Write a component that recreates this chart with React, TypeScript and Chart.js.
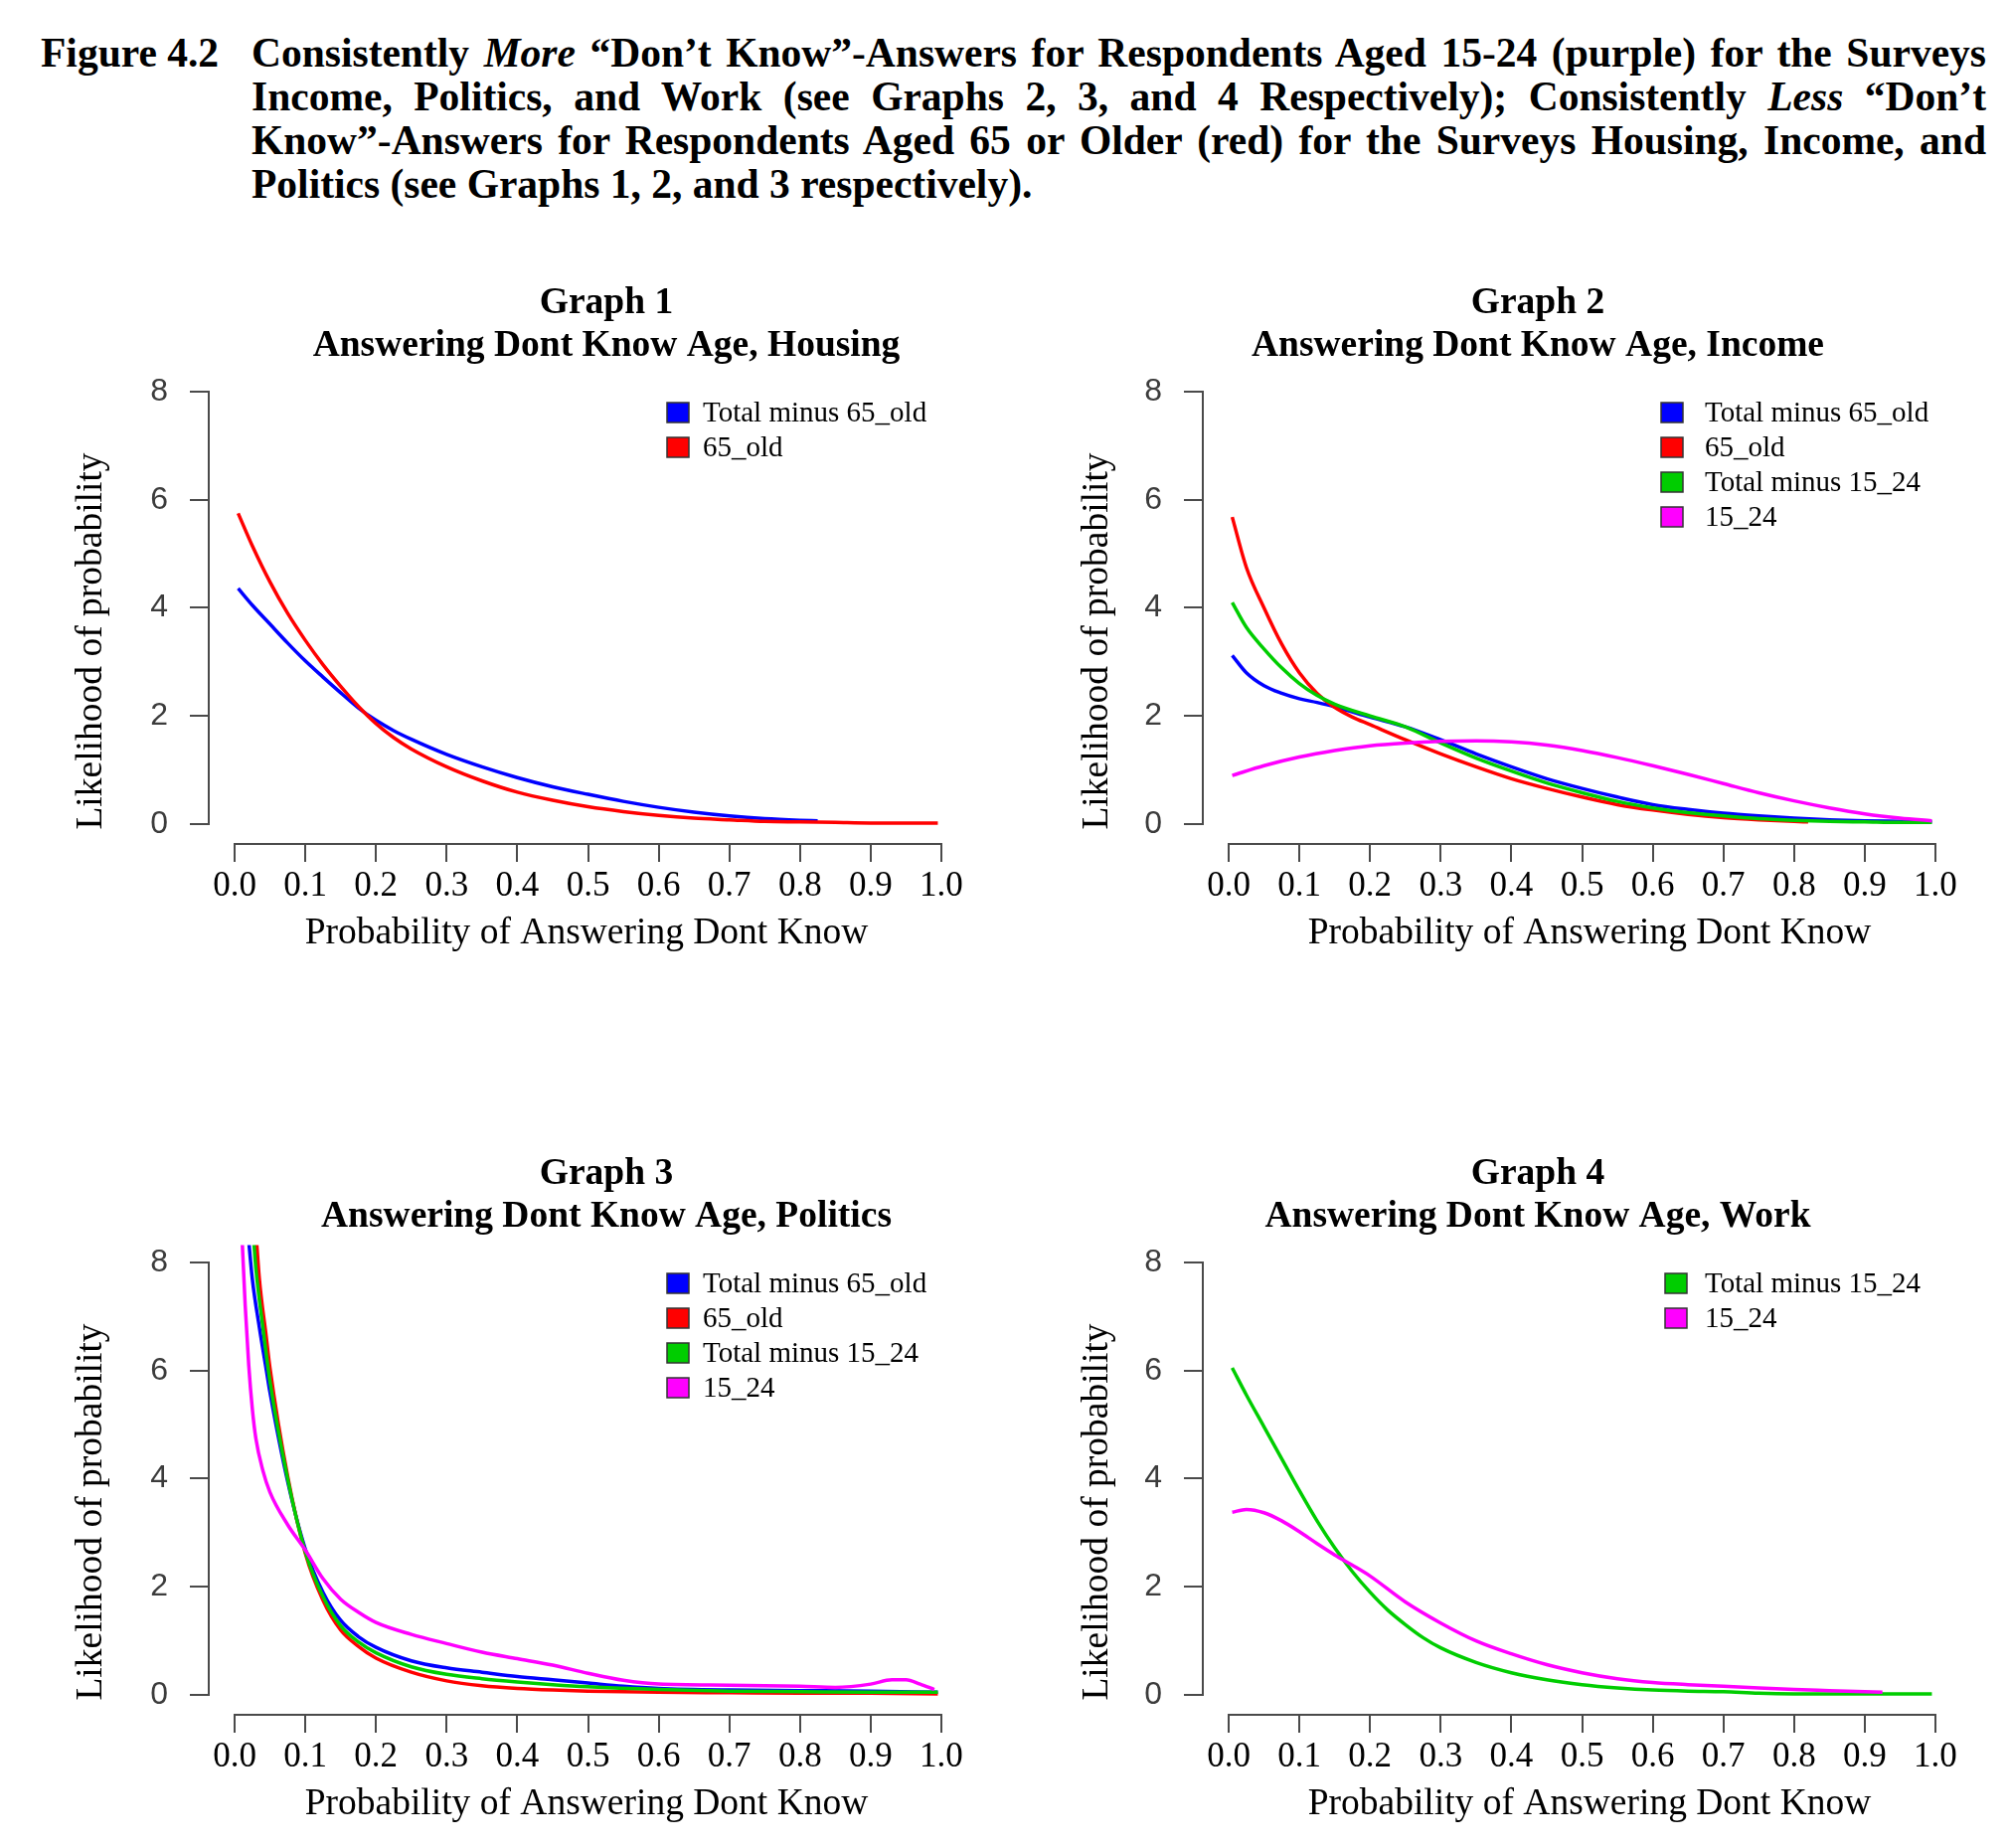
import React, { useEffect, useRef } from "react";
import { Chart, registerables } from "chart.js";

Chart.register(...registerables);

type Pt = [number, number];

// ---- Density curves: [probability of answering "don't know", likelihood] ----

// Graph 1 - Housing
const housingTotalMinus65: Pt[] = [
  [0.005, 4.36], [0.025, 4.05], [0.05, 3.7], [0.075, 3.35], [0.1, 3.02], [0.125, 2.72],
  [0.15, 2.43], [0.175, 2.15], [0.2, 1.92], [0.225, 1.73], [0.25, 1.57], [0.3, 1.29],
  [0.35, 1.06], [0.4, 0.86], [0.45, 0.69], [0.5, 0.55], [0.55, 0.42], [0.6, 0.31],
  [0.65, 0.22], [0.7, 0.15], [0.75, 0.1], [0.8, 0.07], [0.825, 0.06],
];
const housing65Old: Pt[] = [
  [0.005, 5.75], [0.025, 5.15], [0.05, 4.48], [0.075, 3.9], [0.1, 3.4], [0.125, 2.95],
  [0.15, 2.55], [0.175, 2.18], [0.2, 1.86], [0.225, 1.6], [0.25, 1.39], [0.3, 1.06],
  [0.35, 0.8], [0.4, 0.59], [0.45, 0.44], [0.5, 0.32], [0.55, 0.23], [0.6, 0.16],
  [0.65, 0.11], [0.7, 0.08], [0.75, 0.05], [0.8, 0.04], [0.85, 0.03], [0.9, 0.02],
  [0.95, 0.02], [0.995, 0.02],
];

// Graph 2 - Income
const incomeTotalMinus65: Pt[] = [
  [0.005, 3.12], [0.025, 2.8], [0.05, 2.56], [0.075, 2.42], [0.1, 2.32], [0.125, 2.25],
  [0.15, 2.17], [0.2, 1.98], [0.25, 1.8], [0.3, 1.56], [0.35, 1.3], [0.4, 1.06],
  [0.45, 0.84], [0.5, 0.66], [0.55, 0.5], [0.6, 0.36], [0.65, 0.27], [0.7, 0.2],
  [0.75, 0.15], [0.8, 0.11], [0.85, 0.08], [0.9, 0.06], [0.95, 0.05], [0.995, 0.04],
];
const income65Old: Pt[] = [
  [0.005, 5.68], [0.025, 4.75], [0.05, 4.0], [0.075, 3.33], [0.1, 2.8], [0.125, 2.42],
  [0.15, 2.16], [0.175, 1.98], [0.2, 1.84], [0.25, 1.56], [0.3, 1.3], [0.35, 1.06],
  [0.4, 0.84], [0.45, 0.66], [0.5, 0.5], [0.55, 0.36], [0.6, 0.26], [0.65, 0.18],
  [0.7, 0.12], [0.75, 0.08], [0.8, 0.05], [0.82, 0.04],
];
const incomeTotalMinus1524: Pt[] = [
  [0.005, 4.1], [0.025, 3.64], [0.05, 3.24], [0.075, 2.89], [0.1, 2.6], [0.125, 2.38],
  [0.15, 2.22], [0.2, 2.0], [0.25, 1.8], [0.3, 1.5], [0.35, 1.22], [0.4, 0.98],
  [0.45, 0.76], [0.5, 0.58], [0.55, 0.42], [0.6, 0.3], [0.65, 0.21], [0.7, 0.15],
  [0.75, 0.1], [0.8, 0.07], [0.85, 0.05], [0.9, 0.04], [0.95, 0.03], [0.995, 0.03],
];
const income1524: Pt[] = [
  [0.005, 0.9], [0.05, 1.08], [0.1, 1.24], [0.15, 1.36], [0.2, 1.45], [0.25, 1.5],
  [0.3, 1.53], [0.35, 1.54], [0.4, 1.52], [0.45, 1.46], [0.5, 1.36], [0.55, 1.23],
  [0.6, 1.08], [0.65, 0.92], [0.7, 0.75], [0.75, 0.58], [0.8, 0.43], [0.85, 0.3],
  [0.9, 0.19], [0.95, 0.11], [0.995, 0.06],
];

// Graph 3 - Politics (curves leave the top of the plot near zero)
const politicsTotalMinus65: Pt[] = [
  [0.018, 8.7], [0.025, 7.7], [0.035, 6.8], [0.045, 6.0], [0.05, 5.6], [0.075, 3.95],
  [0.1, 2.7], [0.125, 1.9], [0.15, 1.38], [0.175, 1.08], [0.2, 0.88], [0.25, 0.63],
  [0.3, 0.5], [0.35, 0.42], [0.4, 0.34], [0.45, 0.28], [0.5, 0.22], [0.55, 0.16],
  [0.6, 0.12], [0.7, 0.09], [0.8, 0.08], [0.9, 0.07], [0.995, 0.05],
];
const politics65Old: Pt[] = [
  [0.03, 8.6], [0.035, 7.7], [0.045, 6.6], [0.05, 6.05], [0.075, 4.05], [0.1, 2.62],
  [0.125, 1.75], [0.15, 1.2], [0.175, 0.9], [0.2, 0.68], [0.25, 0.42], [0.3, 0.26],
  [0.35, 0.17], [0.4, 0.12], [0.45, 0.09], [0.5, 0.07], [0.6, 0.05], [0.7, 0.04],
  [0.8, 0.03], [0.9, 0.03], [0.995, 0.02],
];
const politicsTotalMinus1524: Pt[] = [
  [0.026, 8.6], [0.03, 7.9], [0.04, 6.8], [0.05, 5.8], [0.075, 4.0], [0.1, 2.65],
  [0.125, 1.82], [0.15, 1.28], [0.175, 0.98], [0.2, 0.78], [0.25, 0.52], [0.3, 0.38],
  [0.35, 0.3], [0.4, 0.24], [0.45, 0.19], [0.5, 0.15], [0.6, 0.1], [0.7, 0.07],
  [0.8, 0.06], [0.9, 0.05], [0.995, 0.05],
];
const politics1524: Pt[] = [
  [0.01, 8.6], [0.015, 7.2], [0.02, 6.1], [0.025, 5.3], [0.03, 4.75], [0.04, 4.15],
  [0.05, 3.75], [0.075, 3.15], [0.1, 2.68], [0.125, 2.15], [0.15, 1.77], [0.175, 1.53],
  [0.2, 1.34], [0.25, 1.12], [0.3, 0.95], [0.35, 0.79], [0.4, 0.67], [0.45, 0.55],
  [0.5, 0.4], [0.55, 0.27], [0.6, 0.2], [0.7, 0.18], [0.8, 0.16], [0.85, 0.14],
  [0.9, 0.2], [0.93, 0.28], [0.95, 0.28], [0.97, 0.2], [0.99, 0.1],
];

// Graph 4 - Work
const workTotalMinus1524: Pt[] = [
  [0.005, 6.05], [0.025, 5.55], [0.05, 4.96], [0.075, 4.37], [0.1, 3.78], [0.125, 3.22],
  [0.15, 2.72], [0.175, 2.28], [0.2, 1.9], [0.225, 1.57], [0.25, 1.3], [0.275, 1.06],
  [0.3, 0.87], [0.35, 0.6], [0.4, 0.41], [0.45, 0.28], [0.5, 0.19], [0.55, 0.13],
  [0.6, 0.09], [0.65, 0.07], [0.7, 0.06], [0.75, 0.03], [0.8, 0.02], [0.9, 0.02],
  [0.995, 0.02],
];
const work1524: Pt[] = [
  [0.005, 3.38], [0.025, 3.43], [0.05, 3.37], [0.075, 3.22], [0.1, 3.02], [0.125, 2.8],
  [0.15, 2.59], [0.175, 2.4], [0.2, 2.2], [0.25, 1.72], [0.3, 1.33], [0.35, 1.0],
  [0.4, 0.76], [0.45, 0.56], [0.5, 0.41], [0.55, 0.3], [0.6, 0.23], [0.65, 0.19],
  [0.7, 0.16], [0.75, 0.13], [0.8, 0.1], [0.85, 0.08], [0.9, 0.06], [0.925, 0.05],
];

// ---- Axis ticks ----
const xTicks = [0, 0.1, 0.2, 0.3, 0.4, 0.5, 0.6, 0.7, 0.8, 0.9, 1.0];
const yTicks = [0, 2, 4, 6, 8];

// ---- Texts ----
const LABEL_TOTAL_65 = "Total minus 65_old";
const LABEL_65 = "65_old";
const LABEL_TOTAL_1524 = "Total minus 15_24";
const LABEL_1524 = "15_24";
const X_TITLE = "Probability of Answering Dont Know";
const Y_TITLE = "Likelihood of probability";

// ---- Styles ----
const BLUE = "#0000FF";
const RED = "#FF0000";
const GREEN = "#00CD00";
const MAGENTA = "#FF00FF";
const AXIS_COLOR = "#4a4a4a";
const SERIF = '"Liberation Serif", "Times New Roman", serif';
const SANS = '"Liberation Sans", Arial, sans-serif';

// ---- Panel geometry (canvas-relative) ----
const CANVAS_W = 1000;
const CANVAS_H = 710;
const PLOT_TOP = 126.6;
const Y_AXIS_W = 210;
const X_AXIS_H = 111;
const RIGHT_PAD = 27;
const X_MIN = -0.0366;
const X_MAX = 1.0366;
const Y_MIN = -0.368;
const Y_MAX = 8.32;

interface Series {
  label: string;
  color: string;
  points: Pt[];
}

interface Panel {
  heading: [string, string];
  left: number;
  top: number;
  headingX: number;
  xTitleX: number;
  yTitleX: number;
  legendBoxX: number;
  legendTextX: number;
  series: Series[];
}

const PANELS: Panel[] = [
  {
    heading: ["Graph 1", "Answering Dont Know Age, Housing"],
    left: 0, top: 250, headingX: 610, xTitleX: 590, yTitleX: 92,
    legendBoxX: 671, legendTextX: 707,
    series: [
      { label: LABEL_TOTAL_65, color: BLUE, points: housingTotalMinus65 },
      { label: LABEL_65, color: RED, points: housing65Old },
    ],
  },
  {
    heading: ["Graph 2", "Answering Dont Know Age, Income"],
    left: 1000, top: 250, headingX: 547, xTitleX: 599, yTitleX: 104,
    legendBoxX: 671, legendTextX: 715,
    series: [
      { label: LABEL_TOTAL_65, color: BLUE, points: incomeTotalMinus65 },
      { label: LABEL_65, color: RED, points: income65Old },
      { label: LABEL_TOTAL_1524, color: GREEN, points: incomeTotalMinus1524 },
      { label: LABEL_1524, color: MAGENTA, points: income1524 },
    ],
  },
  {
    heading: ["Graph 3", "Answering Dont Know Age, Politics"],
    left: 0, top: 1126, headingX: 610, xTitleX: 590, yTitleX: 92,
    legendBoxX: 671, legendTextX: 707,
    series: [
      { label: LABEL_TOTAL_65, color: BLUE, points: politicsTotalMinus65 },
      { label: LABEL_65, color: RED, points: politics65Old },
      { label: LABEL_TOTAL_1524, color: GREEN, points: politicsTotalMinus1524 },
      { label: LABEL_1524, color: MAGENTA, points: politics1524 },
    ],
  },
  {
    heading: ["Graph 4", "Answering Dont Know Age, Work"],
    left: 1000, top: 1126, headingX: 547, xTitleX: 599, yTitleX: 104,
    legendBoxX: 675, legendTextX: 715,
    series: [
      { label: LABEL_TOTAL_1524, color: GREEN, points: workTotalMinus1524 },
      { label: LABEL_1524, color: MAGENTA, points: work1524 },
    ],
  },
];

// R-style frame: axis lines spanning first..last tick, headings, axis titles, legend
function makeFramePlugin(panel: Panel) {
  return {
    id: "rFrame",
    afterDraw(chart: Chart) {
      const { ctx, chartArea } = chart;
      const xs = chart.scales.x;
      const ys = chart.scales.y;
      ctx.save();

      ctx.strokeStyle = AXIS_COLOR;
      ctx.lineWidth = 2;
      ctx.lineCap = "square";
      ctx.beginPath();
      ctx.moveTo(xs.getPixelForValue(xTicks[0]), chartArea.bottom);
      ctx.lineTo(xs.getPixelForValue(xTicks[xTicks.length - 1]), chartArea.bottom);
      ctx.moveTo(chartArea.left, ys.getPixelForValue(yTicks[0]));
      ctx.lineTo(chartArea.left, ys.getPixelForValue(yTicks[yTicks.length - 1]));
      ctx.stroke();

      ctx.fillStyle = "#000";
      ctx.textAlign = "center";
      ctx.textBaseline = "middle";
      ctx.font = `bold 37.5px ${SERIF}`;
      ctx.fillText(panel.heading[0], panel.headingX, 55);
      ctx.fillText(panel.heading[1], panel.headingX, 98);

      ctx.font = `37.5px ${SERIF}`;
      ctx.fillText(X_TITLE, panel.xTitleX, 689);

      ctx.save();
      ctx.translate(panel.yTitleX, 395);
      ctx.rotate(-Math.PI / 2);
      ctx.fillText(Y_TITLE, 0, 0);
      ctx.restore();

      ctx.font = `29px ${SERIF}`;
      ctx.textAlign = "left";
      panel.series.forEach((s, i) => {
        const cy = 165 + i * 35;
        ctx.fillStyle = s.color;
        ctx.fillRect(panel.legendBoxX, cy - 10, 22, 20);
        ctx.strokeStyle = "#333";
        ctx.lineWidth = 1.5;
        ctx.lineCap = "butt";
        ctx.strokeRect(panel.legendBoxX, cy - 10, 22, 20);
        ctx.fillStyle = "#000";
        ctx.fillText(s.label, panel.legendTextX, cy + 1);
      });

      ctx.restore();
    },
  };
}

function PanelChart({ panel }: { panel: Panel }) {
  const ref = useRef<HTMLCanvasElement>(null);

  useEffect(() => {
    const canvas = ref.current;
    if (!canvas) return;
    const n = panel.series.length;
    const chart = new Chart(canvas, {
      type: "line",
      data: {
        datasets: panel.series.map((s, i) => ({
          label: s.label,
          data: s.points.map(([x, y]) => ({ x, y })),
          borderColor: s.color,
          backgroundColor: s.color,
          borderWidth: 3.5,
          pointRadius: 0,
          fill: false,
          cubicInterpolationMode: "monotone" as const,
          order: n - i,
        })),
      },
      options: {
        animation: false,
        responsive: false,
        maintainAspectRatio: false,
        events: [],
        layout: { padding: { top: PLOT_TOP, right: RIGHT_PAD, left: 0, bottom: 0 } },
        plugins: {
          legend: { display: false },
          title: { display: false },
          tooltip: { enabled: false },
        },
        scales: {
          x: {
            type: "linear",
            min: X_MIN,
            max: X_MAX,
            afterFit: (scale: any) => {
              scale.height = X_AXIS_H;
            },
            afterBuildTicks: (scale: any) => {
              scale.ticks = xTicks.map((value) => ({ value }));
            },
            ticks: {
              autoSkip: false,
              maxRotation: 0,
              minRotation: 0,
              padding: 4,
              color: "#000",
              font: { family: SERIF, size: 35, lineHeight: 1.2 },
              callback: (v: any) => Number(v).toFixed(1),
            },
            grid: {
              display: true,
              drawOnChartArea: false,
              drawTicks: true,
              tickLength: 18,
              color: AXIS_COLOR,
              tickColor: AXIS_COLOR,
              lineWidth: 2,
              tickWidth: 2,
            },
            border: { display: false },
            title: { display: false },
          },
          y: {
            type: "linear",
            min: Y_MIN,
            max: Y_MAX,
            afterFit: (scale: any) => {
              scale.width = Y_AXIS_W;
            },
            afterBuildTicks: (scale: any) => {
              scale.ticks = yTicks.map((value) => ({ value }));
            },
            ticks: {
              autoSkip: false,
              padding: 22,
              color: "#3c3c3c",
              font: { family: SANS, size: 32, lineHeight: 1.2 },
              callback: (v: any) => String(Math.round(Number(v))),
            },
            grid: {
              display: true,
              drawOnChartArea: false,
              drawTicks: true,
              tickLength: 19,
              color: AXIS_COLOR,
              tickColor: AXIS_COLOR,
              lineWidth: 2,
              tickWidth: 2,
            },
            border: { display: false },
            title: { display: false },
          },
        },
      },
      plugins: [makeFramePlugin(panel)],
    });
    return () => chart.destroy();
  }, [panel]);

  return (
    <canvas
      ref={ref}
      width={CANVAS_W}
      height={CANVAS_H}
      style={{
        position: "absolute",
        left: panel.left,
        top: panel.top,
        width: CANVAS_W,
        height: CANVAS_H,
        display: "block",
      }}
    />
  );
}

const captionFont: React.CSSProperties = {
  fontFamily: SERIF,
  fontWeight: "bold",
  fontSize: 41.5,
  lineHeight: "44px",
  color: "#000",
};

const justifiedLine: React.CSSProperties = {
  textAlign: "justify",
  textAlignLast: "justify",
};

export default function App() {
  return (
    <div
      style={{
        position: "absolute",
        left: 0,
        top: 0,
        width: 2021,
        height: 1859,
        background: "#fff",
        overflow: "hidden",
      }}
    >
      <div style={{ ...captionFont, position: "absolute", left: 41, top: 31 }}>Figure 4.2</div>
      <div style={{ ...captionFont, position: "absolute", left: 253, top: 31, width: 1745 }}>
        <div style={justifiedLine}>
          Consistently <i>More</i> “Don’t Know”-Answers for Respondents Aged 15-24 (purple) for the Surveys
        </div>
        <div style={justifiedLine}>
          Income, Politics, and Work (see Graphs 2, 3, and 4 Respectively); Consistently <i>Less</i> “Don’t
        </div>
        <div style={justifiedLine}>
          Know”-Answers for Respondents Aged 65 or Older (red) for the Surveys Housing, Income, and
        </div>
        <div style={{ textAlign: "left" }}>Politics (see Graphs 1, 2, and 3 respectively).</div>
      </div>
      {PANELS.map((p) => (
        <PanelChart key={p.heading[0]} panel={p} />
      ))}
    </div>
  );
}
